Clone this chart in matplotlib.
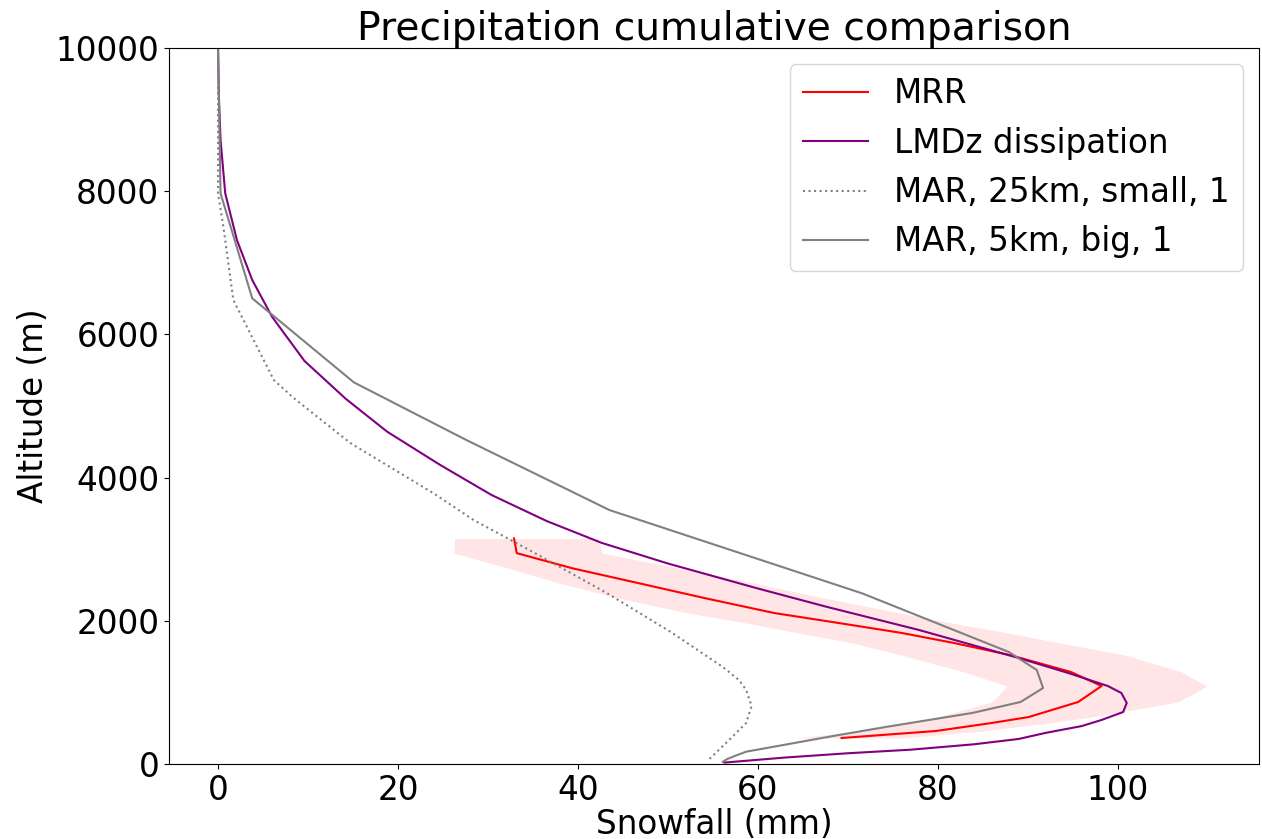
import matplotlib
matplotlib.use("Agg")
import matplotlib.pyplot as plt

# ---- data ----
# MRR observations (with uncertainty band)
alt_mrr = [3150, 2945, 2733, 2524, 2314, 2109, 1969, 1830, 1690, 1522, 1285, 1089, 866, 656, 573, 461, 363]
mrr = [32.9, 33.2, 39.4, 46.8, 54.2, 61.8, 69.0, 76.0, 81.8, 88.0, 94.8, 98.2, 95.6, 90.1, 86.0, 79.8, 69.3]
mrr_low = [26.3, 26.2, 32.3, 38.0, 44.6, 52.2, 58.7, 64.5, 70.5, 75.9, 82.9, 87.7, 86.0, 80.0, 76.6, 71.2, 64.2]
mrr_high = [42.2, 42.7, 51.3, 59.7, 67.5, 75.8, 81.6, 87.8, 93.6, 100.8, 107.1, 109.9, 106.7, 97.1, 92.3, 85.0, 76.0]

# LMDz dissipation
alt_lmdz = [10000, 9300, 8715, 7970, 7318, 6760, 6247, 5630, 5100, 4641, 4176, 3757, 3395, 3090,
            2800, 2458, 2200, 1872, 1480, 1271, 1089, 992, 852, 726, 615, 530, 435, 350, 275, 200, 150, 90, 20]
lmdz = [0.0, 0.1, 0.28, 0.8, 2.1, 3.8, 6.0, 9.6, 14.2, 18.8, 24.7, 30.4, 36.5, 42.6,
        50.0, 59.8, 67.5, 77.9, 89.0, 94.5, 98.9, 100.4, 101.0, 100.6, 98.2, 96.0, 92.0, 89.0, 84.0, 77.0, 70.0, 63.0, 56.3]

# MAR, 25km, small, 1
alt_mar25 = [10000, 7970, 7500, 6480, 5363, 5112, 4483, 3785, 3408, 2947, 2388, 1830, 1355, 1173,
             1033, 810, 573, 335, 56]
mar25 = [0.0, 0.0, 0.6, 1.7, 6.2, 8.4, 14.7, 23.9, 28.4, 35.2, 43.2, 50.5, 56.1, 57.9,
         58.7, 59.3, 58.7, 56.8, 54.5]

# MAR, 5km, big, 1
alt_mar5 = [10000, 7970, 6504, 5330, 4525, 3547, 2383, 1564, 1313, 1061, 866, 712, 517, 405, 172, 120, 70, 30]
mar5 = [0.0, 0.28, 3.8, 15.1, 27.6, 43.5, 71.6, 87.9, 91.0, 91.7, 89.2, 83.8, 74.2, 69.0, 58.7, 57.6, 56.6, 56.1]

title = "Precipitation cumulative comparison"
xlabel = "Snowfall (mm)"
ylabel = "Altitude (m)"

plt.rcParams['font.family'] = ['DejaVu Sans']
plt.rcParams['font.size'] = 23.5

fig = plt.figure(figsize=(12.62, 8.39), dpi=100)
ax = fig.add_axes([169 / 1262, 1 - 764 / 839, (1259 - 169) / 1262, (764 - 48) / 839])

ax.fill_betweenx(alt_mrr, mrr_low, mrr_high, color='red', alpha=0.1, linewidth=0)
ax.plot(mrr, alt_mrr, color='red', label='MRR')
ax.plot(lmdz, alt_lmdz, color='purple', label='LMDz dissipation')
ax.plot(mar25, alt_mar25, color='grey', linestyle=':', label='MAR, 25km, small, 1')
ax.plot(mar5, alt_mar5, color='grey', label='MAR, 5km, big, 1')

ax.set_ylim(0, 10000)
ax.set_xlim(-5.45, 115.7)
ax.set_xticks([0, 20, 40, 60, 80, 100])
ax.set_yticks([0, 2000, 4000, 6000, 8000, 10000])
ax.set_title(title, fontsize=28.2)
ax.set_xlabel(xlabel, labelpad=1)
ax.set_ylabel(ylabel)
ax.legend(loc='upper right')

fig.savefig("out.png", dpi=100)
